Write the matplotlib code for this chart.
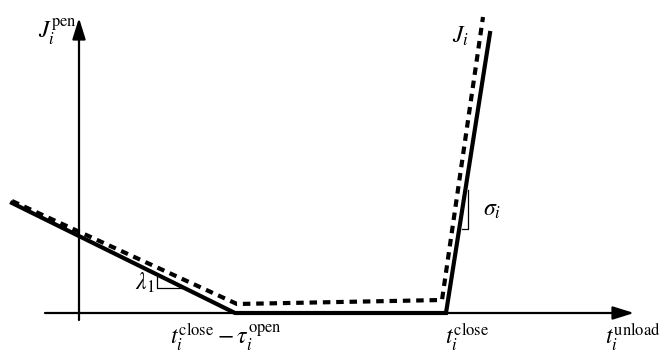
import matplotlib.pyplot as plt
import numpy as np

plt.rcParams['mathtext.fontset'] = 'stix'
plt.rcParams['font.family'] = 'STIXGeneral'

# penalty curve J_i (solid) and its smoothed approximation (dashed)
solid_t = [-67, 156, 367, 411]
solid_J = [110, 0, 0, 280]
dashed_t = [-67, 158, 363, 404]
dashed_J = [112, 9, 13, 296]

# slope markers
lam_t = [78, 78, 104]
lam_J = [36, 25, 25]
sig_t = [389, 389, 383]
sig_J = [123, 84, 84]

fig = plt.figure(figsize=(6.66, 3.56), dpi=100)
ax = fig.add_axes([0, 0, 1, 1])
ax.set_xlim(-79, 587)
ax.set_ylim(-43, 313)
ax.axis('off')

# coordinate axes
arrow = dict(arrowstyle='-|>,head_length=0.8,head_width=0.25', color='k',
             lw=1.6, shrinkA=0, shrinkB=0, mutation_scale=16)
ax.annotate('', xy=(555, 0), xytext=(-34, 0), arrowprops=arrow)
ax.annotate('', xy=(0, 295), xytext=(0, -7), arrowprops=arrow)

ax.plot(solid_t, solid_J, color='k', lw=3.0, solid_joinstyle='miter')
ax.plot(dashed_t, dashed_J, color='k', lw=3.0, dashes=(1.8, 1.4))

ax.plot(lam_t, lam_J, color='k', lw=0.9)
ax.plot(sig_t, sig_J, color='k', lw=0.9)

fs = 17
ax.text(-41, 296, r'$J_i^{\rm pen}$', fontsize=fs, va='top', ha='left')
ax.text(373, 288, r'$J_i$', fontsize=fs, va='top', ha='left')
ax.text(404, 103, r'$\sigma_i$', fontsize=fs, va='center', ha='left')
ax.text(76, 30, r'$\lambda_1$', fontsize=fs, va='center', ha='right')
ax.text(91, -8, r'$t_i^{\rm close}-\tau_i^{\rm open}$', fontsize=fs, va='top', ha='left')
ax.text(366, -8, r'$t_i^{\rm close}$', fontsize=fs, va='top', ha='left')
ax.text(526, -8, r'$t_i^{\rm unload}$', fontsize=fs, va='top', ha='left')

fig.savefig('out.png', dpi=100)
